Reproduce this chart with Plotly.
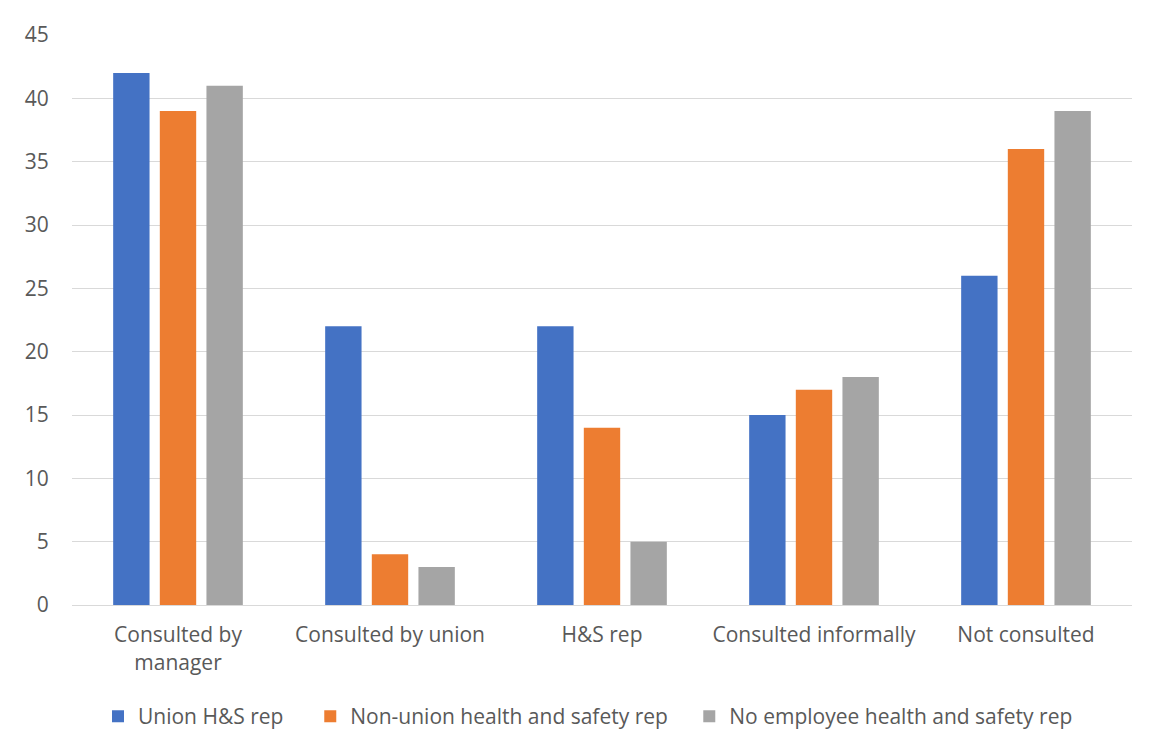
import plotly.graph_objects as go

categories = ["Consulted by<br>manager", "Consulted by union", "H&S rep", "Consulted informally", "Not consulted"]
union_rep = [42, 22, 22, 15, 26]
non_union_rep = [39, 4, 14, 17, 36]
no_rep = [41, 3, 5, 18, 39]
series_names = ["Union H&S rep", "Non-union health and safety rep", "No employee health and safety rep"]
colors = ["#4472C4", "#ED7D31", "#A5A5A5"]
y_ticks = [0, 5, 10, 15, 20, 25, 30, 35, 40, 45]

font_family = "Open Sans, Lato, sans-serif"
FS = 21
W, H = 1146, 747
L, T, R, B = 64, 25, 22, 150
pw = W - L - R
ph = H - T - B
OFF = 8  # page body offset

pads = ["\u00a0" * 4, "\u00a0" * 3, ""]
fig = go.Figure()
for name, vals, col, pad in zip(series_names, [union_rep, non_union_rep, no_rep], colors, pads):
    fig.add_trace(go.Bar(x=categories, y=vals, name=name + pad, marker_color=col,
                         marker_line_width=0))

fig.update_layout(
    width=W, height=H,
    barmode="group", bargap=0.34, bargroupgap=0.22,
    plot_bgcolor="white", paper_bgcolor="white",
    margin=dict(l=L, r=R, t=T, b=B),
    font=dict(family=font_family, size=FS, color="#595959"),
    xaxis=dict(showgrid=False, showline=True, linecolor="#D9D9D9", linewidth=1,
               ticks="outside", ticklen=0, ticklabelstandoff=11,
               tickfont=dict(size=FS, color="#595959")),
    yaxis=dict(range=[0, 45], tickvals=y_ticks, showgrid=True, gridcolor="#D9D9D9",
               gridwidth=1, zeroline=False, showline=False,
               ticks="outside", ticklen=0, ticklabelstandoff=18,
               tickfont=dict(size=FS, color="#595959")),
    legend=dict(orientation="h", x=(98 - OFF - L) / pw, xanchor="left",
                y=(T + ph - (717 - OFF)) / ph, yanchor="middle",
                font=dict(size=FS, color="#595959"), itemwidth=30,
                traceorder="normal", bgcolor="rgba(0,0,0,0)"),
)

fig.write_html("out.html")
